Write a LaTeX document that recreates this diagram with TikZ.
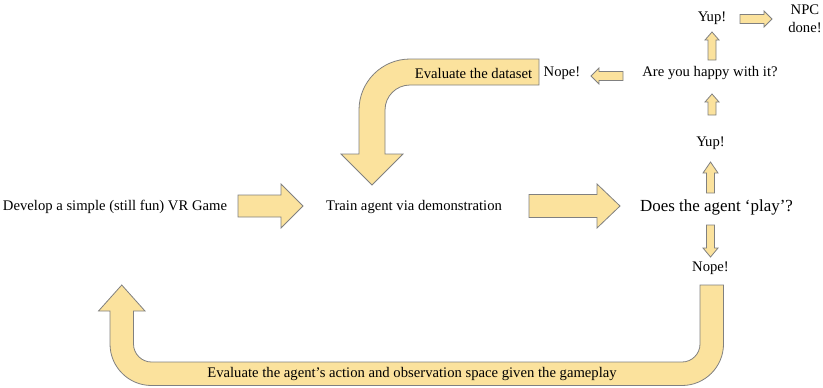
\documentclass[tikz,border=0pt]{standalone}
\usepackage{fontspec}
\setmainfont{Liberation Serif}
\definecolor{arrowfill}{HTML}{FBE29D}
\definecolor{arrowline}{HTML}{808080}
\begin{document}
\begin{tikzpicture}[x=0.75pt,y=-0.75pt,
  blockarrow/.style={fill=arrowfill,draw=arrowline,line width=0.6pt,line join=miter},
  lbl/.style={font=\fontsize{11}{13.2}\selectfont,inner sep=0pt,anchor=center},
  biglbl/.style={font=\fontsize{12.7}{15}\selectfont,inner sep=0pt,anchor=center}]
\useasboundingbox (0,0) rectangle (823,387);

% texts
\node[lbl] (dev) at (115,207) {Develop a simple (still fun) VR Game};
\node[lbl] (train) at (414,207) {Train agent via demonstration};
\node[biglbl] (does) at (716.5,207) {Does the agent ‘play’?};
\node[lbl] (nope1) at (710.5,268) {Nope!};
\node[lbl] (yup1) at (710.5,143) {Yup!};
\node[lbl] (happy) at (710,73) {Are you happy with it?};
\node[lbl] (yup2) at (712,18) {Yup!};
\node[lbl,align=center] (npc) at (805,19) {NPC\\done!};
\node[lbl] (nope2) at (562,73) {Nope!};

% straight block arrows
\draw[blockarrow] (238,195) -- (281,195) -- (281,184) -- (303,206) -- (281,228) -- (281,217) -- (238,217) -- cycle;
\draw[blockarrow] (529,194.5) -- (597,194.5) -- (597,184) -- (620,206) -- (597,228) -- (597,217.5) -- (529,217.5) -- cycle;

% small vertical arrows
\draw[blockarrow] (706.5,193) -- (706.5,173) -- (703,173) -- (710.5,162) -- (718,173) -- (714.5,173) -- (714.5,193) -- cycle;
\draw[blockarrow] (706.5,225) -- (706.5,248) -- (703,248) -- (710.5,257) -- (718,248) -- (714.5,248) -- (714.5,225) -- cycle;
\draw[blockarrow] (708,115) -- (708,102) -- (705,102) -- (712,94) -- (719,102) -- (716,102) -- (716,115) -- cycle;
\draw[blockarrow] (708,60) -- (708,40) -- (705,40) -- (712,32) -- (719,40) -- (716,40) -- (716,60) -- cycle;

% small horizontal arrows
\draw[blockarrow] (623,71.5) -- (599,71.5) -- (599,68) -- (591,76) -- (599,84) -- (599,80.5) -- (623,80.5) -- cycle;
\draw[blockarrow] (740,14.5) -- (764,14.5) -- (764,11) -- (772,19) -- (764,27) -- (764,23.5) -- (740,23.5) -- cycle;

% top bent arrow
\draw[blockarrow] (539,59) -- (410,59) .. controls (381.8,59) and (359,81.8) .. (359,110)
  -- (359,154) -- (341,154) -- (372,185) -- (403,154) -- (385,154) -- (385,110)
  .. controls (385,96.2) and (396.2,85) .. (410,85) -- (539,85) -- cycle;
\node[lbl] (evaldata) at (473.5,73) {Evaluate the dataset};

% bottom U-turn arrow
\draw[blockarrow] (700,285) -- (700,344) .. controls (700,353.9) and (691.9,362) .. (682,362)
  -- (151.5,362) .. controls (141.6,362) and (133.5,353.9) .. (133.5,344)
  -- (133.5,311) -- (145,311) -- (121.75,285) -- (98.5,311) -- (110,311) -- (110,344)
  .. controls (110,366.9) and (128.6,385.5) .. (151.5,385.5) -- (682,385.5)
  .. controls (704.9,385.5) and (723.5,366.9) .. (723.5,344) -- (723.5,285) -- cycle;
\node[lbl] (evalagent) at (412,374) {Evaluate the agent’s action and observation space given the gameplay};
\end{tikzpicture}
\end{document}
